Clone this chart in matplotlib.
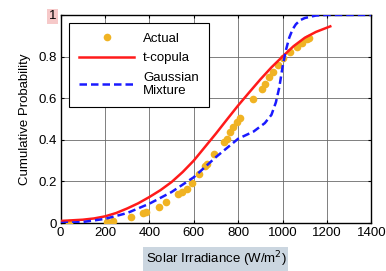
import matplotlib
matplotlib.use("Agg")
import matplotlib.pyplot as plt
import numpy as np

plt.rcParams['font.family'] = ['Liberation Sans', 'DejaVu Sans']

actual_x = [36, 208, 238, 318, 370, 385, 445, 475, 528, 546, 568, 591, 624, 651, 658, 691,
            736, 748, 763, 778, 793, 808, 868, 906, 921, 940, 958, 981, 1003, 1033, 1063,
            1086, 1108, 1120]
actual_y = [0.0, 0.005, 0.01, 0.03, 0.05, 0.055, 0.077, 0.10, 0.14, 0.15, 0.165, 0.19, 0.234,
            0.272, 0.285, 0.333, 0.389, 0.405, 0.437, 0.46, 0.485, 0.504, 0.594, 0.645, 0.669,
            0.70, 0.725, 0.76, 0.794, 0.82, 0.845, 0.864, 0.882, 0.89]

tcop_x = [0, 100, 150, 200, 250, 300, 350, 400, 450, 500, 550, 600, 650, 700, 750, 800, 850,
          900, 950, 1000, 1050, 1100, 1150, 1215]
tcop_y = [0.01, 0.016, 0.022, 0.032, 0.048, 0.07, 0.095, 0.125, 0.158, 0.197, 0.245, 0.30,
          0.365, 0.43, 0.498, 0.565, 0.628, 0.69, 0.748, 0.80, 0.85, 0.89, 0.918, 0.945]

gm_x = [0, 100, 200, 300, 400, 500, 600, 700, 800, 870, 920, 950, 970, 985, 1000, 1015, 1030,
        1045, 1060, 1080, 1100, 1150, 1200, 1300, 1400]
gm_y = [0.0, 0.005, 0.02, 0.048, 0.093, 0.149, 0.22, 0.317, 0.405, 0.44, 0.48, 0.52, 0.58,
        0.65, 0.75, 0.83, 0.89, 0.93, 0.955, 0.975, 0.985, 0.997, 1.0, 1.0, 1.0]

x_ticks = [0, 200, 400, 600, 800, 1000, 1200, 1400]
y_ticks = [0, 0.2, 0.4, 0.6, 0.8, 1]
y_tick_labels = ['0', '0.2', '0.4', '0.6', '0.8', '1']

FS = 9.5

fig = plt.figure(figsize=(3.86, 2.71), dpi=100)
ax = fig.add_axes([0.157, 0.177, 0.805, 0.768])

ax.plot(actual_x, actual_y, 'o', color='#F0B323', markersize=5.5, markeredgewidth=0,
        label='Actual', zorder=3)
ax.plot(tcop_x, tcop_y, '-', color='#FF1A1A', lw=1.8, label='t-copula', zorder=4)
ax.plot(gm_x, gm_y, '--', color='#1A1AFF', lw=1.8, dashes=(3, 1.6),
        label='Gaussian\nMixture', zorder=5)

ax.set_xlim(0, 1400)
ax.set_ylim(0, 1)
ax.set_xticks(x_ticks)
ax.set_yticks(y_ticks)
ax.set_yticklabels(y_tick_labels)
ax.grid(True, color='#6a6a6a', lw=0.6, ls='-')
ax.tick_params(direction='in', length=2.5, width=0.8, labelsize=FS, top=True, right=True,
               pad=3)
for s in ax.spines.values():
    s.set_linewidth(1.0)

for lbl in ax.get_yticklabels():
    if lbl.get_text() == '1':
        lbl.set_bbox(dict(facecolor='#F6C9C9', edgecolor='none', pad=1))

ax.set_ylabel('Cumulative Probability', fontsize=FS, labelpad=5)
ax.set_xlabel('Solar Irradiance (W/m$^2$)', fontsize=FS, labelpad=7,
              bbox=dict(facecolor='#CBD6E0', edgecolor='none', pad=1.5))

leg = ax.legend(loc='upper left', bbox_to_anchor=(0.027, 0.962), fontsize=FS, frameon=True,
                fancybox=False, edgecolor='black', framealpha=1, handlelength=4.2,
                borderpad=0.75, labelspacing=0.55, handletextpad=0.65, borderaxespad=0)
leg.get_frame().set_linewidth(0.8)

fig.savefig('out.png', dpi=100)
